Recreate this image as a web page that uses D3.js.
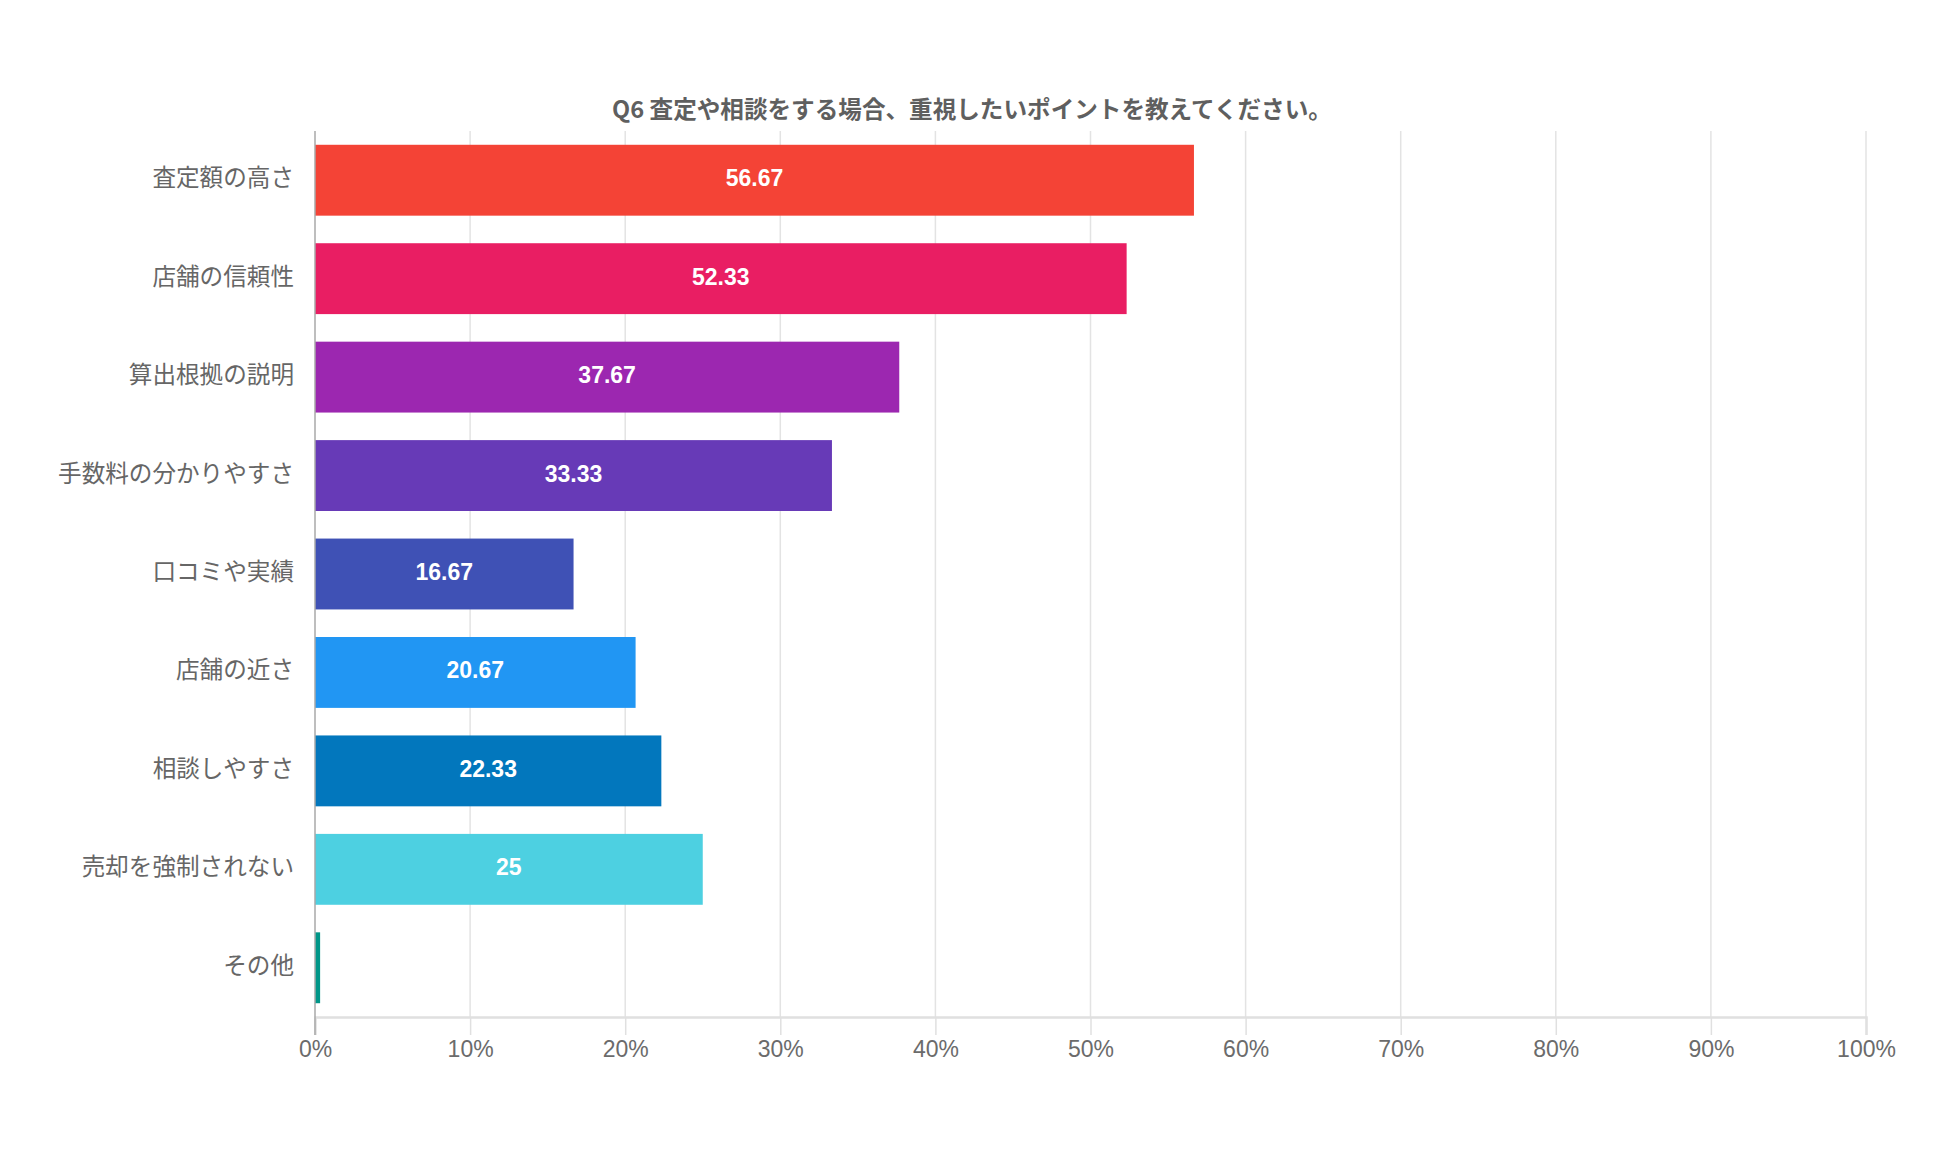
<!DOCTYPE html>
<html>
<head>
<meta charset="utf-8">
<script src="https://cdn.jsdelivr.net/npm/d3@7"></script>
<style>
  body { margin: 0; background: #fff; }
  svg { display: block; }
</style>
</head>
<body>
<script>
const TITLE = "Q6 査定や相談をする場合、重視したいポイントを教えてください。";

const categories = [
  "査定額の高さ",
  "店舗の信頼性",
  "算出根拠の説明",
  "手数料の分かりやすさ",
  "口コミや実績",
  "店舗の近さ",
  "相談しやすさ",
  "売却を強制されない",
  "その他"
];

const values = [56.67, 52.33, 37.67, 33.33, 16.67, 20.67, 22.33, 25, 0.33];

const colors = [
  "#f44336", "#e91e63", "#9c27b0", "#673ab7", "#3f51b5",
  "#2196f3", "#0277bd", "#4dd0e1", "#009688"
];

const tickValues = [0, 10, 20, 30, 40, 50, 60, 70, 80, 90, 100];

const width = 1950;
const height = 1168;
const margin = { top: 131, right: 84, bottom: 151, left: 315 };

const data = categories.map((c, i) => ({ name: c, value: values[i], color: colors[i] }));

const x = d3.scaleLinear()
  .domain([0, 100])
  .range([margin.left, width - margin.right]);

const y = d3.scaleBand()
  .domain(categories)
  .range([margin.top, height - margin.bottom])
  .paddingInner(0.28)
  .paddingOuter(0.14);

const svg = d3.select("body").append("svg")
  .attr("width", width)
  .attr("height", height);

// title
svg.append("text")
  .attr("x", 972)
  .attr("y", 108)
  .attr("text-anchor", "middle")
  .attr("dominant-baseline", "central")
  .attr("font-family", "'Noto Sans CJK JP', 'Liberation Sans', sans-serif")
  .attr("font-weight", "bold")
  .attr("font-size", "23.6px")
  .attr("fill", "#5f5f5f")
  .text(TITLE);

// grid lines
svg.append("g")
  .selectAll("line")
  .data(tickValues.filter(d => d > 0))
  .enter()
    .append("line")
    .attr("x1", d => x(d))
    .attr("x2", d => x(d))
    .attr("y1", margin.top)
    .attr("y2", height - margin.bottom)
    .attr("stroke", "#e3e3e3")
    .attr("stroke-width", 1.5);

// x axis
const xAxis = svg.append("g")
  .attr("transform", `translate(0, ${height - margin.bottom})`)
  .call(d3.axisBottom(x)
    .tickValues(tickValues)
    .tickFormat(d => d + "%")
    .tickSize(18)
    .tickPadding(6));

xAxis.select(".domain")
  .attr("stroke", "#e0e0e0")
  .attr("stroke-width", 2.5);
xAxis.selectAll(".tick line")
  .attr("stroke", "#e0e0e0")
  .attr("stroke-width", 1.5);
xAxis.selectAll(".tick text")
  .attr("font-family", "'Liberation Sans', Arial, sans-serif")
  .attr("font-size", "23px")
  .attr("fill", "#6b6b6b");

// bars
svg.append("g")
  .selectAll("rect")
  .data(data)
  .enter()
    .append("rect")
    .attr("x", x(0))
    .attr("y", d => y(d.name))
    .attr("width", d => x(d.value) - x(0))
    .attr("height", y.bandwidth())
    .attr("fill", d => d.color);

// zero axis line
svg.append("line")
  .attr("x1", x(0))
  .attr("x2", x(0))
  .attr("y1", margin.top)
  .attr("y2", height - margin.bottom + 18)
  .attr("stroke", "#a8a8a8")
  .attr("stroke-width", 1.5);

// value labels (only where the bar is wide enough)
svg.append("g")
  .selectAll("text")
  .data(data.filter(d => x(d.value) - x(0) > 70))
  .enter()
    .append("text")
    .attr("x", d => (x(0) + x(d.value)) / 2)
    .attr("y", d => y(d.name) + y.bandwidth() / 2 - 2)
    .attr("text-anchor", "middle")
    .attr("dominant-baseline", "central")
    .attr("font-family", "'Liberation Sans', Arial, sans-serif")
    .attr("font-weight", "bold")
    .attr("font-size", "23px")
    .attr("fill", "#ffffff")
    .text(d => d.value);

// category labels
svg.append("g")
  .selectAll("text")
  .data(data)
  .enter()
    .append("text")
    .attr("x", x(0) - 21)
    .attr("y", d => y(d.name) + y.bandwidth() / 2 - 4)
    .attr("text-anchor", "end")
    .attr("dominant-baseline", "central")
    .attr("font-family", "'Noto Sans CJK JP', sans-serif")
    .attr("font-size", "23.6px")
    .attr("fill", "#666666")
    .text(d => d.name);
</script>
</body>
</html>
